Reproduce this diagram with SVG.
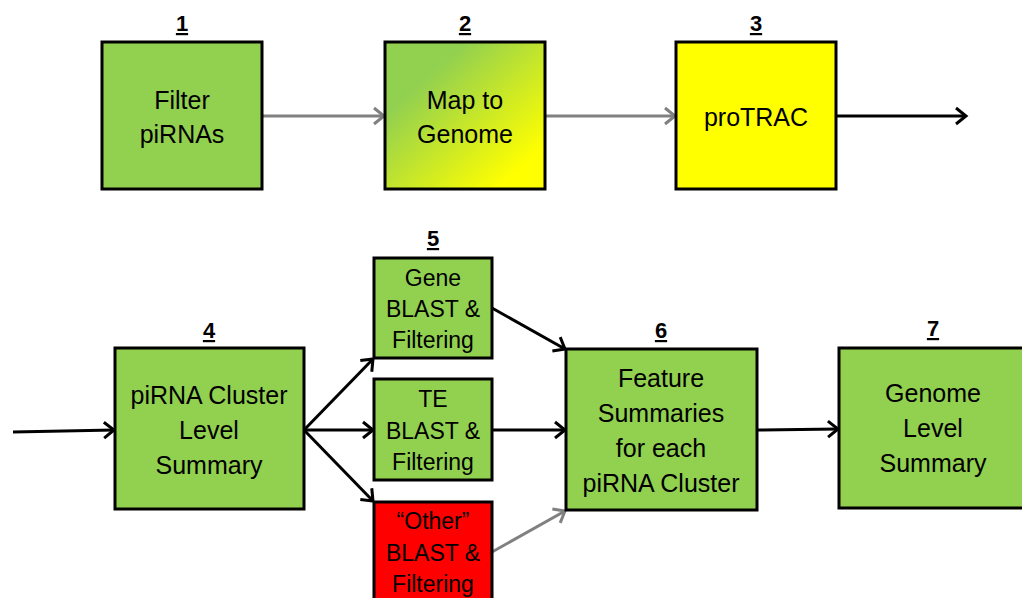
<svg xmlns="http://www.w3.org/2000/svg" width="1022" height="598" viewBox="0 0 1022 598">
<style>
.box{stroke:#000;stroke-width:3}
.g{fill:#92D050}
.y{fill:#FFFF00}
.r{fill:#FF0000}
text{font-family:"Liberation Sans",Arial,sans-serif;fill:#000;text-anchor:middle}
.t{font-size:25px}
.s{font-size:23px}
.n{font-size:22px;font-weight:bold;text-decoration:underline}
.ab{stroke:#000;stroke-width:3;fill:none;marker-end:url(#ha)}
.ag{stroke:#808080;stroke-width:3;fill:none;marker-end:url(#hg)}
</style>
<defs>
<linearGradient id="gy" x1="0" y1="0" x2="1" y2="1">
<stop offset="0.25" stop-color="#92D050"/>
<stop offset="0.85" stop-color="#FFFF00"/>
</linearGradient>
<marker id="ha" markerWidth="18" markerHeight="20" refX="14" refY="10" orient="auto" markerUnits="userSpaceOnUse">
<path d="M4,2 L14,10 L4,18" fill="none" stroke="#000" stroke-width="3"/>
</marker>
<marker id="hg" markerWidth="18" markerHeight="20" refX="14" refY="10" orient="auto" markerUnits="userSpaceOnUse">
<path d="M4,2 L14,10 L4,18" fill="none" stroke="#808080" stroke-width="3"/>
</marker>
</defs>
<g id="connectors">
<line class="ag" x1="263" y1="116" x2="384" y2="116"/>
<line class="ag" x1="545" y1="116" x2="675" y2="116"/>
<line class="ab" x1="836" y1="116" x2="966" y2="116"/>
<line class="ab" x1="13" y1="432" x2="114" y2="430"/>
<line class="ab" x1="304" y1="430" x2="373" y2="359"/>
<line class="ab" x1="304" y1="430" x2="373" y2="430"/>
<line class="ab" x1="304" y1="430" x2="373" y2="501"/>
<line class="ab" x1="492" y1="308" x2="565" y2="349"/>
<line class="ab" x1="492" y1="430" x2="565" y2="430"/>
<line class="ag" x1="492" y1="552" x2="565" y2="511"/>
<line class="ab" x1="757" y1="430" x2="838" y2="429"/>
</g>
<g id="n1">
<text class="n" x="182" y="31">1</text>
<rect class="box g" x="102" y="42" width="160" height="147"/>
<text class="t" x="182" y="109">Filter</text>
<text class="t" x="182" y="143">piRNAs</text>
</g>
<g id="n2">
<text class="n" x="465" y="31">2</text>
<rect class="box" fill="url(#gy)" x="385" y="42" width="160" height="147"/>
<text class="t" x="465" y="109">Map to</text>
<text class="t" x="465" y="143">Genome</text>
</g>
<g id="n3">
<text class="n" x="756" y="31">3</text>
<rect class="box y" x="676" y="42" width="160" height="147"/>
<text class="t" x="756" y="126">proTRAC</text>
</g>
<g id="n4">
<text class="n" x="209" y="338">4</text>
<rect class="box g" x="115" y="348" width="189" height="161"/>
<text class="t" x="209" y="404">piRNA Cluster</text>
<text class="t" x="209" y="439">Level</text>
<text class="t" x="209" y="474">Summary</text>
</g>
<g id="n5">
<text class="n" x="433" y="246">5</text>
<g id="n5a">
<rect class="box g" x="374" y="258" width="118" height="100"/>
<text class="s" x="433" y="286">Gene</text>
<text class="s" x="433" y="317">BLAST &amp;</text>
<text class="s" x="433" y="348">Filtering</text>
</g>
<g id="n5b">
<rect class="box g" x="374" y="379" width="118" height="101"/>
<text class="s" x="433" y="407">TE</text>
<text class="s" x="433" y="439">BLAST &amp;</text>
<text class="s" x="433" y="470">Filtering</text>
</g>
<g id="n5c">
<rect class="box r" x="374" y="502" width="118" height="110"/>
<text class="s" x="433" y="529">“Other”</text>
<text class="s" x="433" y="561">BLAST &amp;</text>
<text class="s" x="433" y="592">Filtering</text>
</g>
</g>
<g id="n6">
<text class="n" x="661" y="338">6</text>
<rect class="box g" x="566" y="349" width="191" height="161"/>
<text class="t" x="661" y="387">Feature</text>
<text class="t" x="661" y="422">Summaries</text>
<text class="t" x="661" y="457">for each</text>
<text class="t" x="661" y="492">piRNA Cluster</text>
</g>
<g id="n7">
<text class="n" x="933" y="336">7</text>
<rect class="box g" x="839" y="348" width="200" height="160"/>
<text class="t" x="933" y="402">Genome</text>
<text class="t" x="933" y="437">Level</text>
<text class="t" x="933" y="472">Summary</text>
</g>
</svg>
